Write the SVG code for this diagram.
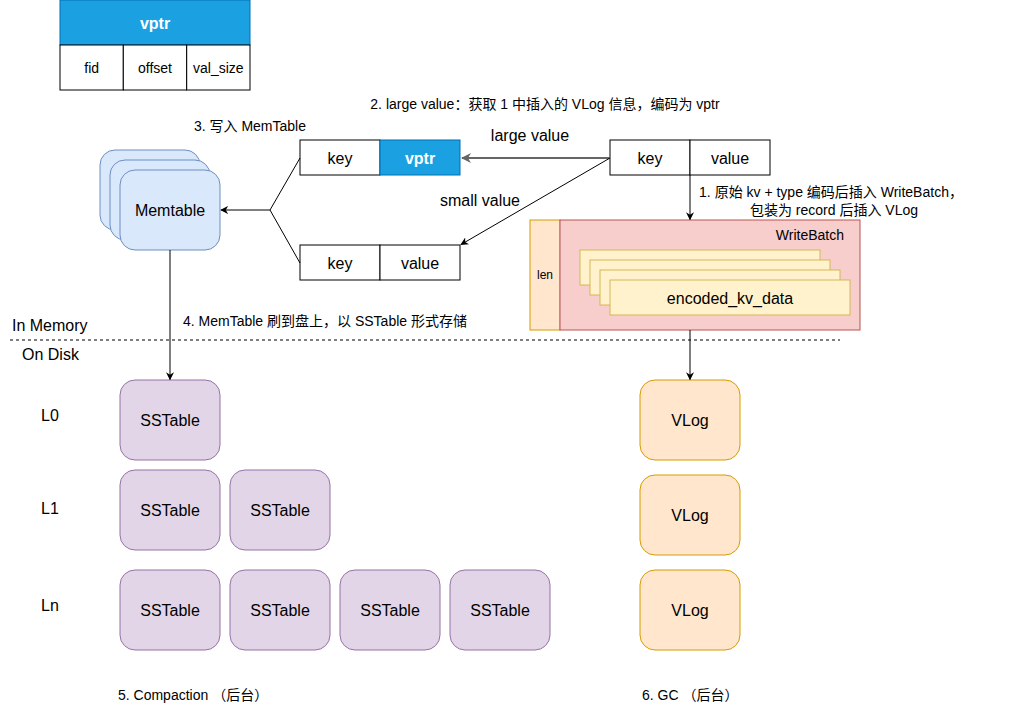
<svg xmlns="http://www.w3.org/2000/svg" width="1010" height="711" viewBox="0 0 1010 711">
<defs>
<style>
text{font-family:"Liberation Sans","Noto Sans CJK SC",sans-serif;fill:#000}
.t14{font-size:16px;text-anchor:middle;dominant-baseline:central}
.t12{font-size:14px}
.c{text-anchor:middle}
.w{fill:#fff;stroke:#000;stroke-width:1}
.blue{fill:#1ba1e2;stroke:#006eaf;stroke-width:1}
.mem{fill:#dae8fc;stroke:#6c8ebf;stroke-width:1}
.ss{fill:#e1d5e7;stroke:#9673a6;stroke-width:1}
.vl{fill:#ffe6cc;stroke:#d79b00;stroke-width:1}
.wb{fill:#f8cecc;stroke:#b85450;stroke-width:1}
.enc{fill:#fff2cc;stroke:#d6b656;stroke-width:1}
.ln{fill:none;stroke:#000;stroke-width:1}
</style>
<marker id="ah" viewBox="0 0 10 10" refX="9" refY="5" markerWidth="8" markerHeight="8" orient="auto" markerUnits="userSpaceOnUse">
<path d="M0,0 L10,5 L0,10 L3,5 Z" fill="#000"/>
</marker>
<marker id="ahg" viewBox="0 0 10 10" refX="9" refY="5" markerWidth="5" markerHeight="5" orient="auto">
<path d="M0,0 L10,5 L0,10 L3,5 Z" fill="#666"/>
</marker>
</defs>
<rect width="1010" height="711" fill="#fff"/>

<g id="vptr-table">
<rect x="60" y="0" width="190" height="45" class="blue"/>
<text x="155" y="23" class="t14" font-weight="bold" style="fill:#fff">vptr</text>
<rect x="60" y="45" width="63.3" height="45" class="w"/>
<rect x="123.3" y="45" width="63.3" height="45" class="w"/>
<rect x="186.7" y="45" width="63.3" height="45" class="w"/>
<text x="91.7" y="68" class="t12 c" dominant-baseline="central">fid</text>
<text x="155" y="68" class="t12 c" dominant-baseline="central">offset</text>
<text x="218.3" y="68" class="t12 c" dominant-baseline="central">val_size</text>
</g>

<g id="memtable">
<rect x="100" y="150" width="100" height="80" rx="15" class="mem"/>
<rect x="110" y="160" width="100" height="80" rx="15" class="mem"/>
<rect x="120" y="170" width="100" height="80" rx="15" class="mem"/>
<text x="170" y="210" class="t14">Memtable</text>
</g>

<g id="key-vptr">
<rect x="300" y="140" width="80" height="35" class="w"/>
<rect x="380" y="140" width="80" height="35" class="blue"/>
<text x="340" y="158" class="t14">key</text>
<text x="420" y="158" class="t14" font-weight="bold" style="fill:#fff">vptr</text>
</g>

<g id="key-value-small">
<rect x="300" y="245" width="80" height="35" class="w"/>
<rect x="380" y="245" width="80" height="35" class="w"/>
<text x="340" y="263" class="t14">key</text>
<text x="420" y="263" class="t14">value</text>
</g>

<g id="key-value-input">
<rect x="610" y="140" width="80" height="35" class="w"/>
<rect x="690" y="140" width="80" height="35" class="w"/>
<text x="650" y="158" class="t14">key</text>
<text x="730" y="158" class="t14">value</text>
</g>

<g id="writebatch">
<rect x="530" y="220" width="30" height="110" class="vl"/>
<text x="545" y="275" class="c" style="font-size:12px" dominant-baseline="central">len</text>
<rect x="560" y="220" width="300" height="110" class="wb"/>
<text x="844" y="235" class="t12" text-anchor="end" dominant-baseline="central">WriteBatch</text>
<rect x="580" y="250" width="240" height="35" class="enc"/>
<rect x="590" y="260" width="240" height="35" class="enc"/>
<rect x="600" y="270" width="240" height="35" class="enc"/>
<rect x="610" y="280" width="240" height="35" class="enc"/>
<text x="730" y="298" class="t14">encoded_kv_data</text>
</g>

<g id="sstables">
<rect x="120" y="380" width="100" height="80" rx="15" class="ss"/>
<text x="170" y="420" class="t14">SSTable</text>
<rect x="120" y="470" width="100" height="80" rx="15" class="ss"/>
<text x="170" y="510" class="t14">SSTable</text>
<rect x="230" y="470" width="100" height="80" rx="15" class="ss"/>
<text x="280" y="510" class="t14">SSTable</text>
<rect x="120" y="570" width="100" height="80" rx="15" class="ss"/>
<text x="170" y="610" class="t14">SSTable</text>
<rect x="230" y="570" width="100" height="80" rx="15" class="ss"/>
<text x="280" y="610" class="t14">SSTable</text>
<rect x="340" y="570" width="100" height="80" rx="15" class="ss"/>
<text x="390" y="610" class="t14">SSTable</text>
<rect x="450" y="570" width="100" height="80" rx="15" class="ss"/>
<text x="500" y="610" class="t14">SSTable</text>
</g>

<g id="vlogs">
<rect x="640" y="380" width="100" height="80" rx="15" class="vl"/>
<text x="690" y="420" class="t14">VLog</text>
<rect x="640" y="475" width="100" height="80" rx="15" class="vl"/>
<text x="690" y="515" class="t14">VLog</text>
<rect x="640" y="570" width="100" height="80" rx="15" class="vl"/>
<text x="690" y="610" class="t14">VLog</text>
</g>

<g id="connectors">
<line x1="610" y1="158" x2="462" y2="158" stroke="#666" stroke-width="2" marker-end="url(#ahg)"/>
<line x1="610" y1="158" x2="461" y2="244.5" class="ln" marker-end="url(#ah)"/>
<line x1="690" y1="175" x2="690" y2="219.5" class="ln" marker-end="url(#ah)"/>
<polyline points="300,158 270,210 300,263" class="ln"/>
<line x1="270" y1="210" x2="221" y2="210" class="ln" marker-end="url(#ah)"/>
<line x1="170" y1="250" x2="170" y2="379.5" class="ln" marker-end="url(#ah)"/>
<line x1="690" y1="330" x2="690" y2="379.5" class="ln" marker-end="url(#ah)"/>
<line x1="10" y1="340" x2="840" y2="340" stroke="#000" stroke-width="1" stroke-dasharray="3,3"/>
</g>

<g id="labels">
<text x="545" y="109" class="t12 c">2. large value：获取 1 中插入的 VLog 信息，编码为 vptr</text>
<text x="250" y="131" class="t12 c">3. 写入 MemTable</text>
<text x="530" y="141" style="font-size:16px" class="c">large value</text>
<text x="480" y="206" style="font-size:16px" class="c">small value</text>
<text x="831" y="197" class="t12 c">1. 原始 kv + type 编码后插入 WriteBatch，</text>
<text x="834" y="215" class="t12 c">包装为 record 后插入 VLog</text>
<text x="325" y="326" class="t12 c">4. MemTable 刷到盘上，以 SSTable 形式存储</text>
<text x="12" y="331" style="font-size:16px">In Memory</text>
<text x="22" y="360" style="font-size:16px">On Disk</text>
<text x="50" y="415" class="t14">L0</text>
<text x="50" y="508" class="t14">L1</text>
<text x="50" y="605" class="t14">Ln</text>
<text x="118" y="700" class="t12">5. Compaction （后台）</text>
<text x="642" y="700" class="t12">6. GC （后台）</text>
</g>
</svg>
